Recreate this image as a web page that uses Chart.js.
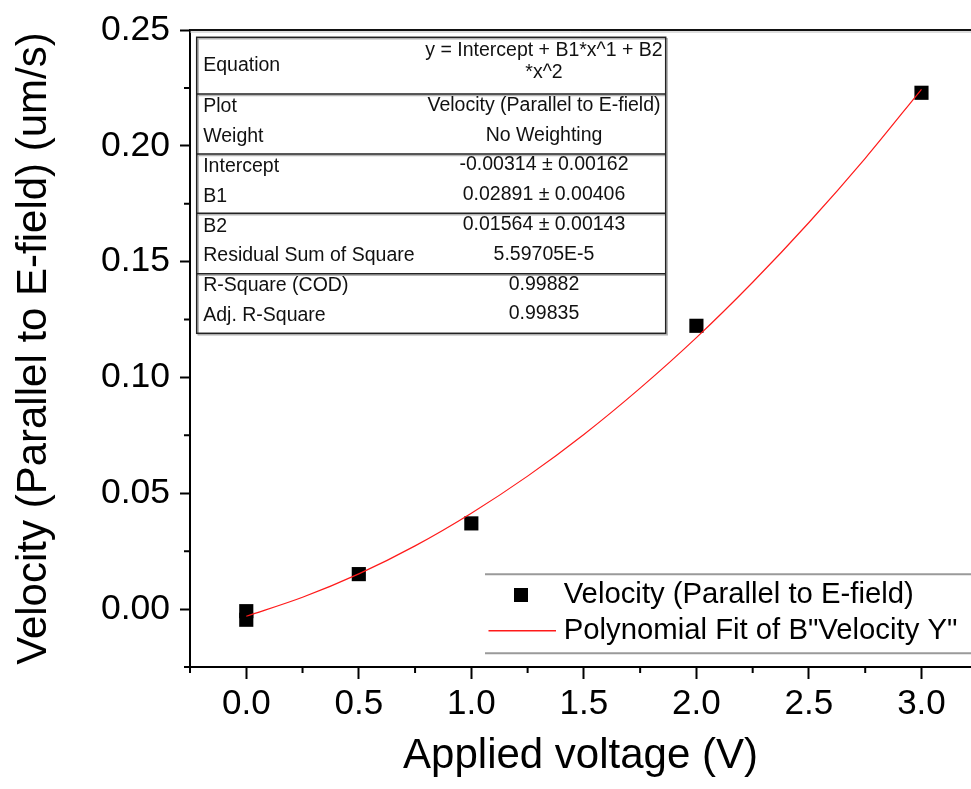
<!DOCTYPE html>
<html><head><meta charset="utf-8">
<script src="https://cdn.jsdelivr.net/npm/chart.js@4.4.1/dist/chart.umd.min.js"></script>
<style>html,body{margin:0;padding:0;background:#fff;}canvas{display:block;}</style>
</head><body>
<canvas id="c" width="971" height="789"></canvas>
<script>
// ---- data ----
const voltage = [0, 0, 0.5, 1.0, 2.0, 3.0];
const velocity = [-0.0009, -0.0046, 0.0151, 0.0370, 0.1223, 0.2229];
const fitVoltage = [0, 0.25, 0.5, 0.75, 1.0, 1.25, 1.5, 1.75, 2.0, 2.25, 2.5, 2.75, 3.0];
const fitVelocity = [-0.0031, 0.0051, 0.0152, 0.0273, 0.0414, 0.0574, 0.0754, 0.0954, 0.1172, 0.1411, 0.1669, 0.1946, 0.2244];
const xMinorTicks = [-0.25, 0.25, 0.75, 1.25, 1.75, 2.25, 2.75];
const yMinorTicks = [-0.025, 0.025, 0.075, 0.125, 0.175, 0.225];
const seriesLabels = ['Velocity (Parallel to E-field)', 'Polynomial Fit of B"Velocity Y"'];
const xTitle = 'Applied voltage (V)';
const yTitle = 'Velocity (Parallel to E-field) (um/s)';
const tableLabels = ['Equation', 'Plot', 'Weight', 'Intercept', 'B1', 'B2', 'Residual Sum of Square', 'R-Square (COD)', 'Adj. R-Square'];
const tableValues = [['y = Intercept + B1*x^1 + B2', '*x^2'], 'Velocity (Parallel to E-field)', 'No Weighting', '-0.00314 \u00b1 0.00162', '0.02891 \u00b1 0.00406', '0.01564 \u00b1 0.00143', '5.59705E-5', '0.99882', '0.99835'];

const FONT = '"Liberation Sans", Arial, sans-serif';

const decor = {
  id: 'decor',
  afterDraw(chart) {
    const {ctx, chartArea: {left, top, right, bottom}, scales: {x, y}} = chart;
    ctx.save();
    // top frame line
    ctx.strokeStyle = '#bbb'; ctx.lineWidth = 1;
    ctx.beginPath(); ctx.moveTo(left, top + 2); ctx.lineTo(right, top + 2); ctx.stroke();
    ctx.strokeStyle = '#111'; ctx.lineWidth = 2;
    ctx.beginPath(); ctx.moveTo(left, top); ctx.lineTo(right, top); ctx.stroke();
    // minor ticks
    ctx.strokeStyle = '#000'; ctx.lineWidth = 2;
    ctx.beginPath();
    xMinorTicks.forEach(v => { const p = x.getPixelForValue(v); ctx.moveTo(p, bottom); ctx.lineTo(p, bottom + 6); });
    yMinorTicks.forEach(v => { const p = y.getPixelForValue(v); ctx.moveTo(left - 6, p); ctx.lineTo(left, p); });
    ctx.stroke();

    // results table
    const L = left + 6.7, T = top + 7.3, W = 469, H = 296;
    ctx.fillStyle = '#fff'; ctx.fillRect(L, T, W, H);
    const divs = [56.7, 116.7, 176, 236.4];
    ctx.strokeStyle = '#b5b5b5'; ctx.lineWidth = 1.5;
    ctx.strokeRect(L + 1.5, T + 1.5, W, H);
    ctx.beginPath();
    divs.forEach(d => { ctx.moveTo(L, T + d + 1.5); ctx.lineTo(L + W, T + d + 1.5); });
    ctx.stroke();
    ctx.strokeStyle = '#222'; ctx.lineWidth = 1.5;
    ctx.strokeRect(L, T, W, H);
    ctx.beginPath();
    divs.forEach(d => { ctx.moveTo(L, T + d); ctx.lineTo(L + W, T + d); });
    ctx.stroke();
    ctx.fillStyle = '#111';
    ctx.font = '19.5px ' + FONT;
    ctx.textBaseline = 'middle';
    const cx = L + 347.3;
    tableLabels.forEach((lab, i) => {
      const ly = i === 0 ? T + 28.7 : T + 56.7 + 13 + 29.8 * (i - 1);
      ctx.textAlign = 'left';
      ctx.fillText(lab, L + 6.5, ly);
      ctx.textAlign = 'center';
      const val = tableValues[i];
      if (Array.isArray(val)) {
        ctx.fillText(val[0], cx, T + 13.4);
        ctx.fillText(val[1], cx, T + 35.4);
      } else {
        ctx.fillText(val, cx, ly - 1.5);
      }
    });

    // legend
    const lx = right - 486;
    ctx.strokeStyle = '#9a9a9a'; ctx.lineWidth = 2;
    ctx.beginPath();
    ctx.moveTo(lx, bottom - 92.7); ctx.lineTo(right, bottom - 92.7);
    ctx.moveTo(lx, bottom - 13.7); ctx.lineTo(right, bottom - 13.7);
    ctx.stroke();
    const ds = chart.data.datasets;
    ctx.font = '29.3px ' + FONT;
    ctx.textAlign = 'left'; ctx.textBaseline = 'middle';
    const y1 = bottom - 72, y2 = bottom - 36.3, tx = right - 407.3;
    ctx.fillStyle = ds[0].backgroundColor;
    ctx.fillRect(right - 450 - 7, y1 - 7, 14, 14);
    ctx.fillStyle = '#000';
    ctx.fillText(ds[0].label, tx, y1);
    ctx.strokeStyle = ds[1].borderColor; ctx.lineWidth = 1.5;
    ctx.beginPath(); ctx.moveTo(right - 482.5, y2); ctx.lineTo(right - 415, y2); ctx.stroke();
    ctx.fillText(ds[1].label, tx, y2);
    ctx.restore();
  }
};

new Chart(document.getElementById('c'), {
  type: 'scatter',
  data: {
    datasets: [
      {
        label: seriesLabels[0],
        data: voltage.map((v, i) => ({x: v, y: velocity[i]})),
        pointStyle: 'rect', pointRadius: 10, pointHoverRadius: 10,
        backgroundColor: '#000', borderColor: '#000', borderWidth: 0,
        showLine: false, order: 2
      },
      {
        label: seriesLabels[1],
        type: 'line',
        data: fitVoltage.map((v, i) => ({x: v, y: fitVelocity[i]})),
        borderColor: '#ff1a1a', borderWidth: 1.2, pointRadius: 0,
        tension: 0.4, cubicInterpolationMode: 'monotone', fill: false,
        showLine: true, order: 1
      }
    ]
  },
  options: {
    responsive: false, animation: false, events: [],
    layout: {autoPadding: false, padding: {top: 30, left: 0, right: 0, bottom: 0}},
    plugins: {legend: {display: false}, tooltip: {enabled: false}},
    scales: {
      x: {
        type: 'linear', min: -0.25, max: 3.22,
        ticks: {stepSize: 0.5, includeBounds: false, autoSkip: false, maxRotation: 0,
          callback: v => v.toFixed(1), font: {family: FONT, size: 35}, color: '#000', padding: 4},
        grid: {drawOnChartArea: false, tickLength: 12, tickWidth: 2, tickColor: '#000'},
        border: {display: true, color: '#000', width: 2},
        title: {display: true, text: xTitle, color: '#000', font: {family: FONT, size: 42}, padding: {top: 0, bottom: 7}},
        afterFit: s => { s.height = 122; s.paddingLeft = 0; s.paddingRight = 0; }
      },
      y: {
        type: 'linear', min: -0.025, max: 0.25,
        ticks: {stepSize: 0.05, includeBounds: false, autoSkip: false,
          callback: v => v.toFixed(2), font: {family: FONT, size: 35.5}, color: '#000', padding: 10},
        grid: {drawOnChartArea: false, tickLength: 10, tickWidth: 2, tickColor: '#000'},
        border: {display: true, color: '#000', width: 2},
        title: {display: true, text: yTitle, color: '#000', font: {family: FONT, size: 42}, padding: {top: 9, bottom: 0}},
        afterFit: s => { s.width = 190; s.paddingTop = 0; s.paddingBottom = 0; }
      }
    }
  },
  plugins: [decor]
});
</script>
</body></html>
